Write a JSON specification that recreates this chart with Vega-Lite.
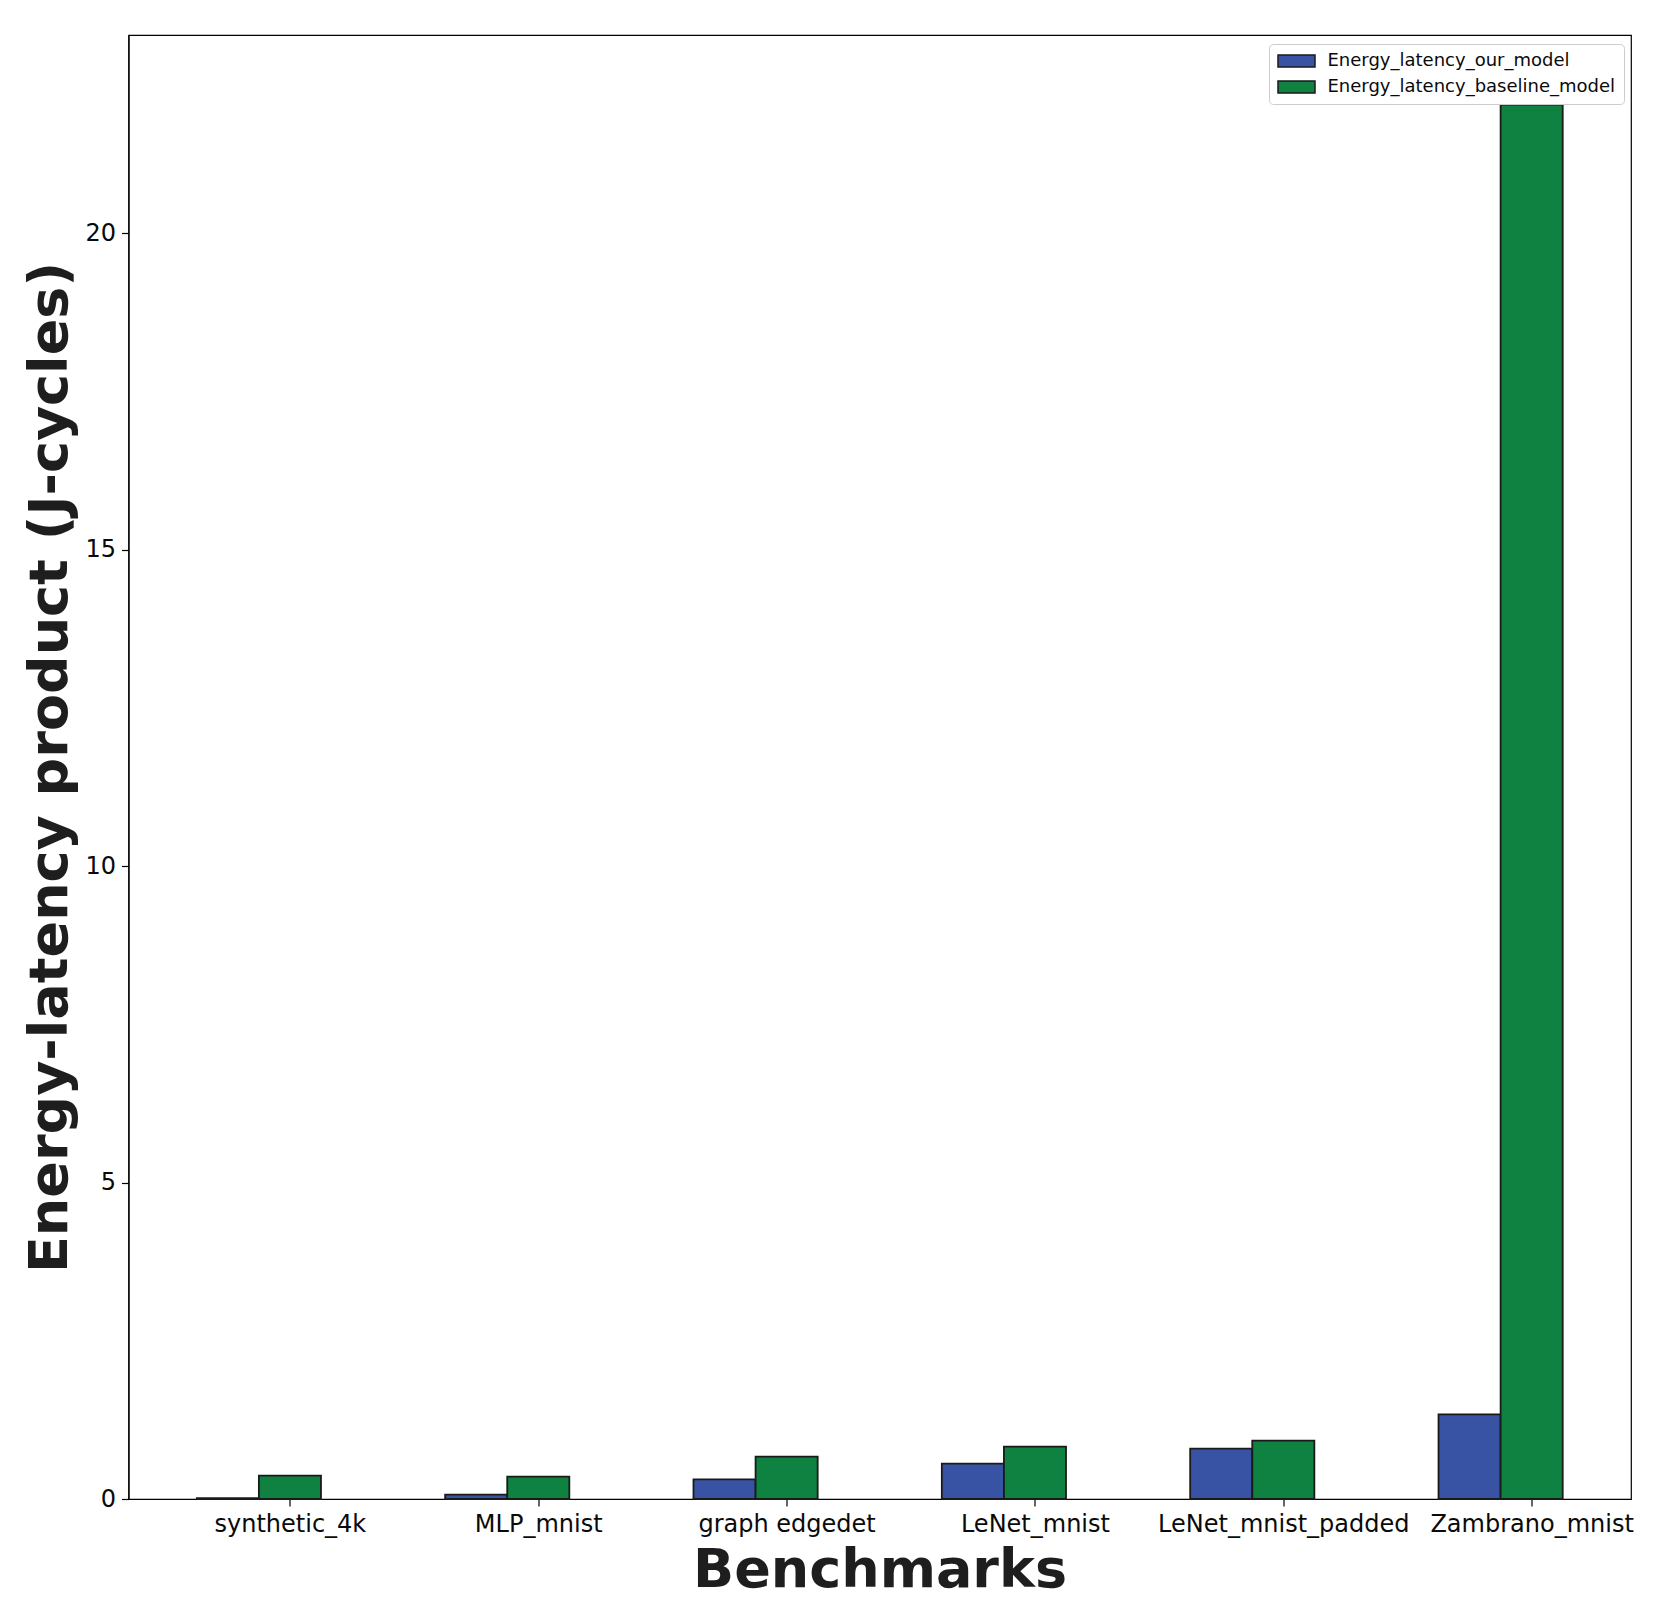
{
  "$schema": "https://vega.github.io/schema/vega-lite/v6.json",
  "autosize": {"type": "none"},
  "padding": {"left": 128.5, "top": 35, "right": 22, "bottom": 111},
  "width": 1502.5,
  "height": 1464,
  "background": "white",
  "config": {
    "view": {"stroke": "black", "strokeWidth": 1.2},
    "font": "DejaVu Sans"
  },
  "data": {
    "values": [
      {"benchmark": "synthetic_4k", "series": "Energy_latency_our_model", "value": 0.012},
      {"benchmark": "synthetic_4k", "series": "Energy_latency_baseline_model", "value": 0.37},
      {"benchmark": "MLP_mnist", "series": "Energy_latency_our_model", "value": 0.07},
      {"benchmark": "MLP_mnist", "series": "Energy_latency_baseline_model", "value": 0.355},
      {"benchmark": "graph edgedet", "series": "Energy_latency_our_model", "value": 0.31},
      {"benchmark": "graph edgedet", "series": "Energy_latency_baseline_model", "value": 0.67},
      {"benchmark": "LeNet_mnist", "series": "Energy_latency_our_model", "value": 0.558},
      {"benchmark": "LeNet_mnist", "series": "Energy_latency_baseline_model", "value": 0.827},
      {"benchmark": "LeNet_mnist_padded", "series": "Energy_latency_our_model", "value": 0.795},
      {"benchmark": "LeNet_mnist_padded", "series": "Energy_latency_baseline_model", "value": 0.921},
      {"benchmark": "Zambrano_mnist", "series": "Energy_latency_our_model", "value": 1.338},
      {"benchmark": "Zambrano_mnist", "series": "Energy_latency_baseline_model", "value": 22.03}
    ]
  },
  "mark": {"type": "bar", "stroke": "#1a1a1a", "strokeWidth": 1.8},
  "encoding": {
    "x": {
      "field": "benchmark",
      "type": "nominal",
      "sort": null,
      "scale": {"paddingInner": 0.5, "paddingOuter": 0.275},
      "axis": {
        "title": "Benchmarks",
        "titleFont": "DejaVu Sans",
        "titleFontSize": 54,
        "titleFontWeight": "bold",
        "titleColor": "#1e1e1e",
        "titleBaseline": "alphabetic",
        "titleX": 751,
        "titleY": 87,
        "labelAngle": 0,
        "labelFont": "DejaVu Sans",
        "labelFontSize": 24,
        "labelColor": "#0a0a0a",
        "labelPadding": 6,
        "labelOverlap": false,
        "labelLimit": 0,
        "labelOffset": 0,
        "tickOffset": 31,
        "tickSize": 7,
        "tickColor": "black",
        "tickWidth": 1.2,
        "domainColor": "black",
        "domainWidth": 1.2,
        "grid": false
      }
    },
    "xOffset": {
      "field": "series",
      "type": "nominal",
      "sort": ["Energy_latency_our_model", "Energy_latency_baseline_model"],
      "scale": {"paddingInner": 0, "paddingOuter": 0}
    },
    "y": {
      "field": "value",
      "type": "quantitative",
      "scale": {"domain": [0, 23.13], "nice": false, "zero": true},
      "axis": {
        "title": "Energy-latency product (J-cycles)",
        "titleFont": "DejaVu Sans",
        "titleFontSize": 54,
        "titleFontWeight": "bold",
        "titleColor": "#1e1e1e",
        "titleBaseline": "alphabetic",
        "titleAlign": "center",
        "titleAngle": -90,
        "titleX": -62,
        "titleY": 732,
        "values": [0, 5, 10, 15, 20],
        "labelFont": "DejaVu Sans",
        "labelFontSize": 24,
        "labelColor": "#0a0a0a",
        "labelPadding": 6,
        "tickSize": 7,
        "tickColor": "black",
        "tickWidth": 1.2,
        "domainColor": "black",
        "domainWidth": 1.2,
        "grid": false
      }
    },
    "color": {
      "field": "series",
      "type": "nominal",
      "sort": ["Energy_latency_our_model", "Energy_latency_baseline_model"],
      "scale": {
        "domain": ["Energy_latency_our_model", "Energy_latency_baseline_model"],
        "range": ["#3953a4", "#0f8140"]
      },
      "legend": {
        "title": null,
        "orient": "none",
        "legendX": 1140.5,
        "legendY": 9,
        "padding": 8,
        "fillColor": "white",
        "strokeColor": "#cccccc",
        "cornerRadius": 4,
        "symbolType": "M-3.083,-1H3.083V1H-3.083Z",
        "symbolSize": 144,
        "symbolOffset": 10.5,
        "symbolStrokeColor": "#1a1a1a",
        "symbolStrokeWidth": 1.5,
        "symbolOpacity": 1,
        "labelFont": "DejaVu Sans",
        "labelFontSize": 18,
        "labelColor": "#0a0a0a",
        "labelOffset": 22,
        "labelLimit": 0,
        "rowPadding": 8
      }
    }
  }
}
